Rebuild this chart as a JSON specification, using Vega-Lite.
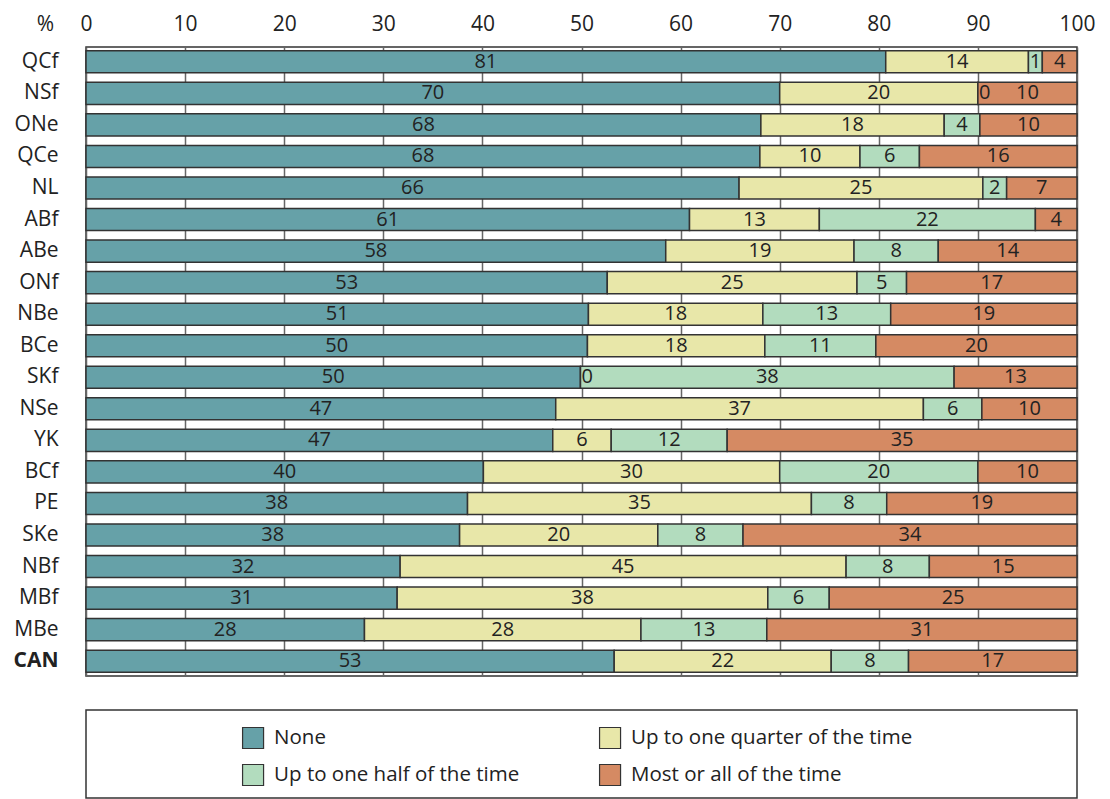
{
  "$schema": "https://vega.github.io/schema/vega-lite/v6.json",
  "padding": {"left": 12, "top": 12, "right": 30, "bottom": 0},
  "background": "white",
  "spacing": 34,
  "bounds": "flush",
  "config": {
    "font": "Open Sans",
    "view": {"stroke": "#333333", "strokeWidth": 1.5},
    "text": {"font": "Open Sans", "color": "#222222"}
  },
  "datasets": {
    "bars": [
      {"p":"QCf","c":"None","k":1,"v":80.7,"l":"81"},
      {"p":"QCf","c":"Up to one quarter of the time","k":2,"v":14.4,"l":"14"},
      {"p":"QCf","c":"Up to one half of the time","k":3,"v":1.4,"l":"1"},
      {"p":"QCf","c":"Most or all of the time","k":4,"v":3.5,"l":"4"},
      {"p":"NSf","c":"None","k":1,"v":70.0,"l":"70"},
      {"p":"NSf","c":"Up to one quarter of the time","k":2,"v":20.0,"l":"20"},
      {"p":"NSf","c":"Up to one half of the time","k":3,"v":0,"l":"0"},
      {"p":"NSf","c":"Most or all of the time","k":4,"v":10.0,"l":"10"},
      {"p":"ONe","c":"None","k":1,"v":68.1,"l":"68"},
      {"p":"ONe","c":"Up to one quarter of the time","k":2,"v":18.5,"l":"18"},
      {"p":"ONe","c":"Up to one half of the time","k":3,"v":3.6,"l":"4"},
      {"p":"ONe","c":"Most or all of the time","k":4,"v":9.8,"l":"10"},
      {"p":"QCe","c":"None","k":1,"v":68.0,"l":"68"},
      {"p":"QCe","c":"Up to one quarter of the time","k":2,"v":10.1,"l":"10"},
      {"p":"QCe","c":"Up to one half of the time","k":3,"v":6.0,"l":"6"},
      {"p":"QCe","c":"Most or all of the time","k":4,"v":15.9,"l":"16"},
      {"p":"NL","c":"None","k":1,"v":65.9,"l":"66"},
      {"p":"NL","c":"Up to one quarter of the time","k":2,"v":24.6,"l":"25"},
      {"p":"NL","c":"Up to one half of the time","k":3,"v":2.4,"l":"2"},
      {"p":"NL","c":"Most or all of the time","k":4,"v":7.1,"l":"7"},
      {"p":"ABf","c":"None","k":1,"v":60.9,"l":"61"},
      {"p":"ABf","c":"Up to one quarter of the time","k":2,"v":13.1,"l":"13"},
      {"p":"ABf","c":"Up to one half of the time","k":3,"v":21.8,"l":"22"},
      {"p":"ABf","c":"Most or all of the time","k":4,"v":4.2,"l":"4"},
      {"p":"ABe","c":"None","k":1,"v":58.5,"l":"58"},
      {"p":"ABe","c":"Up to one quarter of the time","k":2,"v":19.0,"l":"19"},
      {"p":"ABe","c":"Up to one half of the time","k":3,"v":8.5,"l":"8"},
      {"p":"ABe","c":"Most or all of the time","k":4,"v":14.0,"l":"14"},
      {"p":"ONf","c":"None","k":1,"v":52.6,"l":"53"},
      {"p":"ONf","c":"Up to one quarter of the time","k":2,"v":25.2,"l":"25"},
      {"p":"ONf","c":"Up to one half of the time","k":3,"v":5.0,"l":"5"},
      {"p":"ONf","c":"Most or all of the time","k":4,"v":17.2,"l":"17"},
      {"p":"NBe","c":"None","k":1,"v":50.7,"l":"51"},
      {"p":"NBe","c":"Up to one quarter of the time","k":2,"v":17.6,"l":"18"},
      {"p":"NBe","c":"Up to one half of the time","k":3,"v":12.9,"l":"13"},
      {"p":"NBe","c":"Most or all of the time","k":4,"v":18.8,"l":"19"},
      {"p":"BCe","c":"None","k":1,"v":50.6,"l":"50"},
      {"p":"BCe","c":"Up to one quarter of the time","k":2,"v":17.9,"l":"18"},
      {"p":"BCe","c":"Up to one half of the time","k":3,"v":11.2,"l":"11"},
      {"p":"BCe","c":"Most or all of the time","k":4,"v":20.3,"l":"20"},
      {"p":"SKf","c":"None","k":1,"v":49.9,"l":"50"},
      {"p":"SKf","c":"Up to one quarter of the time","k":2,"v":0,"l":"0"},
      {"p":"SKf","c":"Up to one half of the time","k":3,"v":37.7,"l":"38"},
      {"p":"SKf","c":"Most or all of the time","k":4,"v":12.4,"l":"13"},
      {"p":"NSe","c":"None","k":1,"v":47.4,"l":"47"},
      {"p":"NSe","c":"Up to one quarter of the time","k":2,"v":37.1,"l":"37"},
      {"p":"NSe","c":"Up to one half of the time","k":3,"v":5.9,"l":"6"},
      {"p":"NSe","c":"Most or all of the time","k":4,"v":9.6,"l":"10"},
      {"p":"YK","c":"None","k":1,"v":47.1,"l":"47"},
      {"p":"YK","c":"Up to one quarter of the time","k":2,"v":5.9,"l":"6"},
      {"p":"YK","c":"Up to one half of the time","k":3,"v":11.7,"l":"12"},
      {"p":"YK","c":"Most or all of the time","k":4,"v":35.3,"l":"35"},
      {"p":"BCf","c":"None","k":1,"v":40.1,"l":"40"},
      {"p":"BCf","c":"Up to one quarter of the time","k":2,"v":29.9,"l":"30"},
      {"p":"BCf","c":"Up to one half of the time","k":3,"v":20.0,"l":"20"},
      {"p":"BCf","c":"Most or all of the time","k":4,"v":10.0,"l":"10"},
      {"p":"PE","c":"None","k":1,"v":38.5,"l":"38"},
      {"p":"PE","c":"Up to one quarter of the time","k":2,"v":34.7,"l":"35"},
      {"p":"PE","c":"Up to one half of the time","k":3,"v":7.6,"l":"8"},
      {"p":"PE","c":"Most or all of the time","k":4,"v":19.2,"l":"19"},
      {"p":"SKe","c":"None","k":1,"v":37.7,"l":"38"},
      {"p":"SKe","c":"Up to one quarter of the time","k":2,"v":20.0,"l":"20"},
      {"p":"SKe","c":"Up to one half of the time","k":3,"v":8.6,"l":"8"},
      {"p":"SKe","c":"Most or all of the time","k":4,"v":33.7,"l":"34"},
      {"p":"NBf","c":"None","k":1,"v":31.7,"l":"32"},
      {"p":"NBf","c":"Up to one quarter of the time","k":2,"v":45.0,"l":"45"},
      {"p":"NBf","c":"Up to one half of the time","k":3,"v":8.4,"l":"8"},
      {"p":"NBf","c":"Most or all of the time","k":4,"v":14.9,"l":"15"},
      {"p":"MBf","c":"None","k":1,"v":31.4,"l":"31"},
      {"p":"MBf","c":"Up to one quarter of the time","k":2,"v":37.4,"l":"38"},
      {"p":"MBf","c":"Up to one half of the time","k":3,"v":6.2,"l":"6"},
      {"p":"MBf","c":"Most or all of the time","k":4,"v":25.0,"l":"25"},
      {"p":"MBe","c":"None","k":1,"v":28.1,"l":"28"},
      {"p":"MBe","c":"Up to one quarter of the time","k":2,"v":27.9,"l":"28"},
      {"p":"MBe","c":"Up to one half of the time","k":3,"v":12.7,"l":"13"},
      {"p":"MBe","c":"Most or all of the time","k":4,"v":31.3,"l":"31"},
      {"p":"CAN","c":"None","k":1,"v":53.3,"l":"53"},
      {"p":"CAN","c":"Up to one quarter of the time","k":2,"v":21.9,"l":"22"},
      {"p":"CAN","c":"Up to one half of the time","k":3,"v":7.8,"l":"8"},
      {"p":"CAN","c":"Most or all of the time","k":4,"v":17.0,"l":"17"}
    ],
    "legend": [
      {"c":"None","col":0,"row":0},
      {"c":"Up to one quarter of the time","col":1,"row":0},
      {"c":"Up to one half of the time","col":0,"row":1},
      {"c":"Most or all of the time","col":1,"row":1}
    ]
  },
  "vconcat": [
    {
      "width": 991,
      "height": 629,
      "data": {"name": "bars"},
      "transform": [
        {"stack": "v", "groupby": ["p"], "sort": [{"field": "k", "order": "ascending"}], "as": ["s0", "s1"]},
        {"calculate": "(datum.s0 + datum.s1) / 2", "as": "mid"}
      ],
      "encoding": {
        "y": {
          "field": "p", "type": "nominal",
          "sort": ["QCf","NSf","ONe","QCe","NL","ABf","ABe","ONf","NBe","BCe","SKf","NSe","YK","BCf","PE","SKe","NBf","MBf","MBe","CAN"],
          "scale": {"paddingInner": 0.3, "paddingOuter": 0.12},
          "axis": {
            "title": "%", "titleAngle": 0, "titleX": -41, "titleY": -17,
            "titleAlign": "center", "titleBaseline": "alphabetic",
            "titleFontSize": 21, "titleFontWeight": "normal", "titleColor": "#222222", "titleFont": "Open Sans",
            "ticks": false, "domain": false, "labelPadding": 28,
            "labelFontSize": 21, "labelColor": "#222222", "labelFont": "Open Sans",
            "labelFontWeight": {"condition": {"test": "datum.value === 'CAN'", "value": "bold"}, "value": "normal"}
          }
        }
      },
      "layer": [
        {
          "mark": {"type": "bar", "stroke": "#333333", "strokeWidth": 1.5},
          "encoding": {
            "x": {
              "field": "s0", "type": "quantitative",
              "scale": {"domain": [0, 100], "nice": false},
              "axis": {
                "orient": "top", "title": null, "values": [0,10,20,30,40,50,60,70,80,90,100],
                "domain": false, "ticks": false, "grid": true, "gridColor": "#666666", "gridWidth": 1.5,
                "labelFontSize": 21, "labelPadding": 13, "labelColor": "#222222", "labelFlush": false, "labelFont": "Open Sans"
              }
            },
            "x2": {"field": "s1"},
            "color": {
              "field": "c", "type": "nominal",
              "scale": {
                "domain": ["None","Up to one quarter of the time","Up to one half of the time","Most or all of the time"],
                "range": ["#66A1A8","#E8E7A9","#B2DCBE","#D58A63"]
              },
              "legend": null
            }
          }
        },
        {
          "transform": [{"filter": "datum.v > 0"}],
          "mark": {"type": "text", "fontSize": 20, "baseline": "middle", "align": "center"},
          "encoding": {
            "x": {"field": "mid", "type": "quantitative"},
            "text": {"field": "l"}
          }
        },
        {
          "transform": [{"filter": "datum.v == 0"}],
          "mark": {"type": "text", "fontSize": 20, "baseline": "middle", "align": "left", "dx": 1},
          "encoding": {
            "x": {"field": "s0", "type": "quantitative"},
            "text": {"field": "l"}
          }
        }
      ]
    },
    {
      "width": 991,
      "height": 88,
      "data": {"name": "legend"},
      "encoding": {
        "x": {"field": "col", "type": "quantitative", "scale": {"domain": [-0.468, 2.308], "nice": false, "zero": false}, "axis": null},
        "y": {"field": "row", "type": "quantitative", "scale": {"domain": [-0.757, 1.622], "nice": false, "zero": false, "reverse": true}, "axis": null}
      },
      "layer": [
        {
          "mark": {"type": "point", "shape": "square", "filled": true, "size": 441, "stroke": "#333333", "strokeWidth": 1.2, "opacity": 1},
          "encoding": {
            "color": {"field": "c", "type": "nominal", "legend": null}
          }
        },
        {
          "mark": {"type": "text", "align": "left", "baseline": "middle", "dx": 21, "fontSize": 20.5},
          "encoding": {"text": {"field": "c"}}
        }
      ]
    }
  ]
}
